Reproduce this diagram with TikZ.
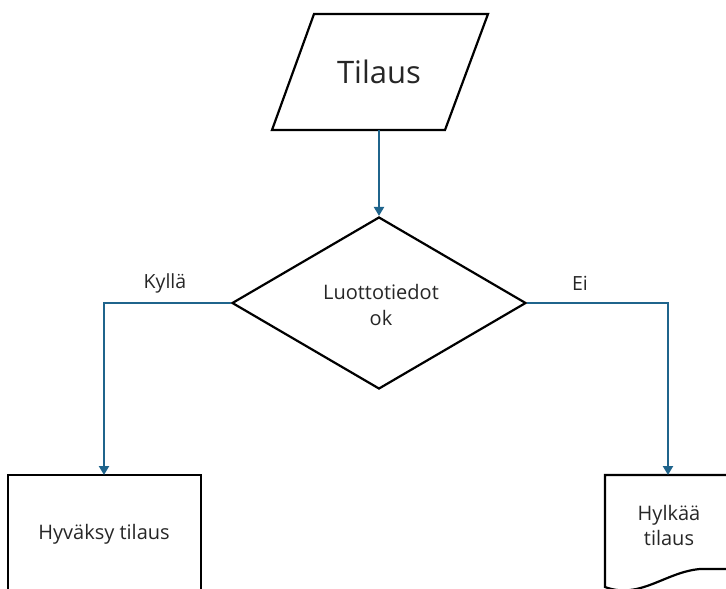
\documentclass[tikz,border=0pt]{standalone}
\usepackage{fontspec}
\setmainfont{Open Sans}
\usetikzlibrary{shapes.geometric,arrows.meta}
\definecolor{conn}{RGB}{31,100,140}
\tikzset{
  shapeline/.style={draw=black, line width=2.2pt, line join=miter},
  conline/.style={draw=conn, line width=2.2pt, -{Triangle[width=10pt,length=9pt]}},
  lbl/.style={font=\fontsize{19.5}{22}\selectfont, text=black!85},
  boxtext/.style={font=\fontsize{20}{25}\selectfont, text=black!85, align=center}
}
\begin{document}
\begin{tikzpicture}[x=1pt,y=-1pt]
\useasboundingbox (0,0) rectangle (726,589);
\clip (0,0) rectangle (726,589);
% parallelogram
\draw[shapeline] (314,14) -- (488,14) -- (445,130) -- (272,130) -- cycle;
\node[font=\fontsize{31}{34}\selectfont, text=black!85] (tilaus) at (379,72) {Tilaus};
\coordinate (tilausbot) at (379,130);
% diamond
\node[shapeline, diamond, minimum width=294pt, minimum height=172pt, inner sep=0pt] (luotto) at (379,303) {};
\node[boxtext, font=\fontsize{20}{26}\selectfont] (luottotxt) at (381,305) {Luottotiedot\\ok};
% accept box
\draw[shapeline] (8,620) -- (8,475) -- (201,475) -- (201,620);
\coordinate (acctop) at (104,475);
\node[boxtext] (acc) at (104,534) {Hyväksy tilaus};
% document
\draw[shapeline] (740,475) -- (605,475) -- (605,587) .. controls (640,600) and (665,572) .. (700,569) -- (740,569);
\coordinate (rejtop) at (668,475);
\node[boxtext] (rej) at (669,525) {Hylkää\\tilaus};
% connectors
\draw[conline] (tilausbot) -- (luotto.north);
\draw[conline] (luotto.west) -| (acctop);
\draw[conline] (luotto.east) -| (rejtop);
\node[lbl] (kylla) at (165,283) {Kyllä};
\node[lbl] (ei) at (580,283) {Ei};
\end{tikzpicture}
\end{document}
